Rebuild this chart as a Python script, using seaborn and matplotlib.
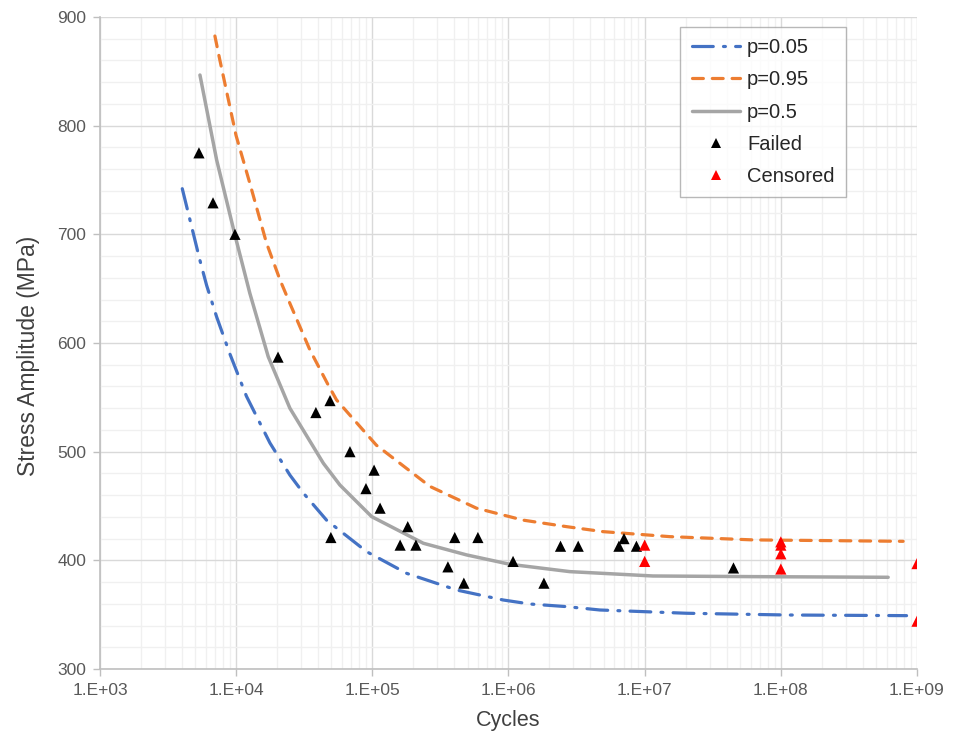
import numpy as np
import pandas as pd
import matplotlib
matplotlib.use("Agg")
import matplotlib.pyplot as plt
import matplotlib.ticker as mticker
from matplotlib.lines import Line2D
import seaborn as sns

# ---- data ----
failed_cycles = [5.33e3, 6.76e3, 9.8e3, 2.03e4, 3.85e4, 4.89e4, 6.85e4, 8.98e4, 1.03e5,
                 1.14e5, 4.96e4, 1.82e5, 1.6e5, 2.09e5, 4.03e5, 5.96e5, 3.59e5, 4.7e5,
                 1.08e6, 1.82e6, 2.41e6, 3.25e6, 6.47e6, 7.05e6, 8.7e6, 4.49e7]
failed_stress = [775, 729, 700, 587, 536, 547, 500, 466, 483,
                 448, 421, 431, 414, 414, 421, 421, 394, 379,
                 399, 379, 413, 413, 413, 420, 413, 393]

censored_cycles = [1.0e7, 1.0e7, 1.0e8, 1.0e8, 1.0e8, 1.0e8, 1.0e9, 1.0e9]
censored_stress = [414, 399, 417, 414, 406, 392, 397, 344]

p05_cycles = [4.02e3, 5.42e3, 6.07e3, 7.19e3, 8.99e3, 1.19e4, 1.77e4, 2.48e4, 3.11e4, 4.61e4,
              9.08e4, 1.79e5, 4.16e5, 9.14e5, 1.44e6, 2.67e6, 4.69e6, 2.03e7, 1.10e8, 8.38e8]
p05_stress = [742, 676, 653, 624, 590, 551, 508, 478.5, 462, 437,
              408, 388, 372.7, 363.5, 359.8, 357.4, 354.3, 351.3, 349.7, 349.1]

p95_cycles = [6.98e3, 7.60e3, 9.98e3, 1.26e4, 1.67e4, 2.10e4, 2.48e4, 3.48e4, 4.74e4, 5.46e4,
              1.07e5, 2.65e5, 5.82e5, 1.28e6, 2.67e6, 4.95e6, 1.53e7, 6.27e7, 7.91e8]
p95_stress = [882.5, 860, 791, 747, 692, 658, 636.5, 593.6, 561.4, 547.6,
              506, 468, 448, 437, 431, 426.4, 421.8, 418.8, 417.5]

p50_cycles = [5.42e3, 7.19e3, 9.79e3, 1.26e4, 1.72e4, 2.48e4, 4.37e4, 5.78e4, 9.89e4,
              2.37e5, 4.92e5, 1.02e6, 2.82e6, 1.15e7, 6.25e7, 6.14e8]
p50_stress = [846.6, 768.4, 699.4, 645.8, 587.4, 540, 489.3, 469.3, 440.2,
              415.7, 405, 396.4, 389.6, 385.6, 385, 384.4]

x_ticks = [1e3, 1e4, 1e5, 1e6, 1e7, 1e8, 1e9]
x_labels = ["1.E+03", "1.E+04", "1.E+05", "1.E+06", "1.E+07", "1.E+08", "1.E+09"]
y_ticks = [300, 400, 500, 600, 700, 800, 900]

# ---- style ----
sns.set_theme(style="white")
plt.rcParams['font.family'] = ['Liberation Sans', 'DejaVu Sans']

BLUE = "#4472C4"
ORANGE = "#ED7D31"
GRAY = "#A5A5A5"
DASHDOT = (6.5, 3.2, 0.6, 3.2)
DASHED = (3.4, 2.8)

fig = plt.figure(figsize=(9.54, 7.47), dpi=100)
ax = fig.add_axes([100/954, 78/747, 817/954, 652/747])

df05 = pd.DataFrame({"cycles": p05_cycles, "stress": p05_stress})
df95 = pd.DataFrame({"cycles": p95_cycles, "stress": p95_stress})
df50 = pd.DataFrame({"cycles": p50_cycles, "stress": p50_stress})
dff = pd.DataFrame({"cycles": failed_cycles, "stress": failed_stress})
dfc = pd.DataFrame({"cycles": censored_cycles, "stress": censored_stress})

ax.set_xscale("log")

sns.lineplot(data=df05, x="cycles", y="stress", ax=ax, sort=False, color=BLUE,
             lw=2.3, zorder=3)
ax.lines[-1].set_dashes(DASHDOT)
ax.lines[-1].set_dash_capstyle("round")
ax.lines[-1].set_solid_joinstyle("round")
sns.lineplot(data=df95, x="cycles", y="stress", ax=ax, sort=False, color=ORANGE,
             lw=2.3, zorder=3)
ax.lines[-1].set_dashes(DASHED)
ax.lines[-1].set_dash_capstyle("round")
sns.lineplot(data=df50, x="cycles", y="stress", ax=ax, sort=False, color=GRAY,
             lw=2.5, zorder=3)
ax.lines[-1].set_solid_joinstyle("round")

sns.scatterplot(data=dff, x="cycles", y="stress", ax=ax, marker="^", color="black",
                s=65, edgecolor="none", zorder=4)
sns.scatterplot(data=dfc, x="cycles", y="stress", ax=ax, marker="^", color="red",
                s=65, edgecolor="none", zorder=4)

ax.set_xlim(1e3, 1e9)
ax.set_ylim(300, 900)

ax.set_xticks(x_ticks)
ax.xaxis.set_major_formatter(mticker.FixedFormatter(x_labels))
ax.xaxis.set_minor_locator(mticker.LogLocator(base=10, subs=np.arange(2, 10)))
ax.xaxis.set_minor_formatter(mticker.NullFormatter())
ax.set_yticks(y_ticks)
ax.yaxis.set_minor_locator(mticker.MultipleLocator(20))

ax.grid(which="major", color="#D9D9D9", lw=1.0, zorder=0)
ax.grid(which="minor", color="#F0F0F0", lw=1.0, zorder=0)
ax.set_axisbelow(True)

for s in ["top", "right"]:
    ax.spines[s].set_visible(False)
for s in ["left", "bottom"]:
    ax.spines[s].set_color("#BFBFBF")
    ax.spines[s].set_linewidth(1.2)

ax.tick_params(axis="both", which="major", length=5, width=1, color="#BFBFBF",
               labelsize=12.5, labelcolor="#595959", direction="out", pad=5,
               left=True, bottom=True)
ax.tick_params(axis="both", which="minor", length=0)

ax.set_xlabel("Cycles", fontsize=15.5, color="#404040", labelpad=9)
ax.set_ylabel("Stress Amplitude (MPa)", fontsize=16.5, color="#404040")
ax.yaxis.set_label_coords(-0.073, 0.48)

handles = [
    Line2D([], [], color=BLUE, lw=2.3, dashes=DASHDOT, dash_capstyle="round"),
    Line2D([], [], color=ORANGE, lw=2.3, dashes=DASHED, dash_capstyle="round"),
    Line2D([], [], color=GRAY, lw=2.5),
    Line2D([], [], color="black", marker="^", ls="none", markersize=7.5, markeredgewidth=0),
    Line2D([], [], color="red", marker="^", ls="none", markersize=7.5, markeredgewidth=0),
]
labels = ["p=0.05", "p=0.95", "p=0.5", "Failed", "Censored"]
leg = ax.legend(handles, labels, loc="upper left", bbox_to_anchor=(0.7105, 0.9845),
                fontsize=14.5, frameon=True, fancybox=False, handlelength=2.4,
                borderpad=0.55, borderaxespad=0, labelspacing=0.66, handletextpad=0.35)
leg.get_frame().set_edgecolor("#A6A6A6")
leg.get_frame().set_linewidth(1.0)
for t in leg.get_texts():
    t.set_color("#262626")

fig.savefig("out.png", dpi=100, facecolor="white")
